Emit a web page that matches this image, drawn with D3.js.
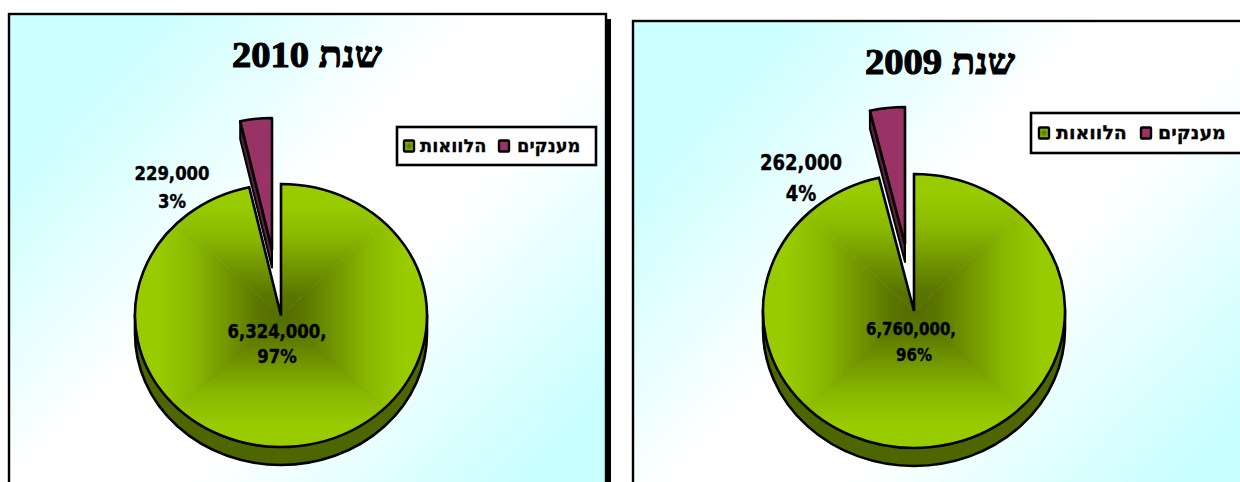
<!DOCTYPE html>
<html><head><meta charset="utf-8">
<script src="https://cdn.jsdelivr.net/npm/d3@7"></script>
<style>html,body{margin:0;padding:0;background:#fff;overflow:hidden}svg{display:block}</style>
</head><body><svg id="c" width="1240" height="482"></svg>
<script>
const categories = ["הלוואות", "מענקים"];
const years = ["2010", "2009"];
const values2010 = [6324000, 229000];
const values2009 = [6760000, 262000];
const percents2010 = ["97%", "3%"];
const percents2009 = ["96%", "4%"];
const titlePrefix = "שנת";
const colors = ["#99cc00", "#993366"];

const layouts = [
 {values:values2010, pct:percents2010, year:years[0], id:"a",
  box:[9,14,597,480], shadow:true, cx:281, cy:315.5, rx:146, ry:131.5, depth:18, off:[-9,-66],
  title:[307,67], big:{x1:277,y1:338,x2:277,y2:363,f:16.5}, small:{x:172,y1:180,y2:208,f:16.5},
  legend:{x:397,y:127,w:199,h:38,sw:[404,499],tx:[420,517],f:17.8}},
 {values:values2009, pct:percents2009, year:years[1], id:"b",
  box:[633,21,620,480], shadow:false, cx:914, cy:311, rx:151, ry:137, depth:18, off:[-9,-67],
  title:[940,74], big:{x1:911,y1:335,x2:914,y2:361,f:15}, small:{x:801,y1:170,y2:201,f:18},
  legend:{x:1031,y:113,w:214,h:40,sw:[1039,1141],tx:[1056,1158],f:19}}
];
const svg = d3.select("#c");
const defs = svg.append("defs");
const sans = "'DejaVu Sans',sans-serif";

function bold(sel, size, family, sw){ return sel.attr("font-family",family).attr("font-size",size).attr("font-weight","bold").attr("fill","#000").attr("stroke","#000").attr("stroke-width",sw).attr("text-anchor","middle"); }

layouts.forEach(L=>{
  const [bx,by,bw,bh]=L.box;
  const bg=defs.append("linearGradient").attr("id","bg"+L.id).attr("gradientUnits","userSpaceOnUse")
    .attr("x1",bx+60).attr("y1",by).attr("x2",bx+bw-40).attr("y2",by+bh);
  [[0,"#ccffff"],[.1,"#ccffff"],[.42,"#ffffff"],[.6,"#ffffff"],[.95,"#c8ffff"],[1,"#c8ffff"]].forEach(s=>bg.append("stop").attr("offset",s[0]).attr("stop-color",s[1]));
  if(L.shadow) svg.append("rect").attr("x",bx+bw-2).attr("y",by+5).attr("width",7).attr("height",bh).attr("fill","#000");
  svg.append("rect").attr("x",bx).attr("y",by).attr("width",bw).attr("height",bh)
    .attr("fill",`url(#bg${L.id})`).attr("stroke","#000").attr("stroke-width",2.4);

  // title
  const tt=svg.append("text").attr("transform",`translate(${L.title[0]},${L.title[1]}) scale(1.07,1)`)
    .attr("direction","rtl").attr("unicode-bidi","embed");
  bold(tt,36,"'Liberation Serif',serif",1.1).text(`${titlePrefix} ${L.year}`);

  // pie
  const pie=d3.pie().sort(null).startAngle(0).endAngle(2*Math.PI)(L.values);
  const sy=L.ry/L.rx;
  const arc=d3.arc().innerRadius(0).outerRadius(L.rx);
  const g=svg.append("g").attr("transform",`translate(${L.cx},${L.cy})`);

  // side wall
  g.append("path").attr("d",`M${-L.rx},0V${L.depth}A${L.rx},${L.ry} 0 0 0 ${L.rx},${L.depth}V0Z`)
    .attr("fill","#4d6600").attr("stroke","#000").attr("stroke-width",2.6);

  // top face, rectangular path gradient built from four triangles clipped to the slice
  const clip=defs.append("clipPath").attr("id","clip"+L.id);
  clip.append("path").attr("d",arc(pie[0])).attr("transform",`scale(1,${sy})`);
  const stops=[[0,"#526d00"],[.15,"#5a7600"],[.6,"#8ab800"],[.85,"#99cc00"],[1,"#99cc00"]];
  const dirs=[[1,0],[-1,0],[0,1],[0,-1]];
  const face=g.append("g").attr("clip-path",`url(#clip${L.id})`);
  dirs.forEach((d,i)=>{
    const gr=defs.append("linearGradient").attr("id",`q${L.id}${i}`).attr("gradientUnits","userSpaceOnUse")
      .attr("x1",0).attr("y1",0).attr("x2",d[0]*L.rx).attr("y2",d[1]*L.ry);
    stops.forEach(s=>gr.append("stop").attr("offset",s[0]).attr("stop-color",s[1]));
    const a=d[0]?[d[0]*L.rx,-L.ry,d[0]*L.rx,L.ry]:[-L.rx,d[1]*L.ry,L.rx,d[1]*L.ry];
    face.append("path").attr("d",`M0,0L${a[0]},${a[1]}L${a[2]},${a[3]}Z`).attr("fill",`url(#q${L.id}${i})`)
      .attr("stroke",`url(#q${L.id}${i})`).attr("stroke-width",.6);
  });
  g.append("path").attr("d",arc(pie[0])).attr("transform",`scale(1,${sy})`)
    .attr("fill","none").attr("stroke","#000").attr("stroke-width",2.6).attr("vector-effect","non-scaling-stroke").attr("stroke-linejoin","miter");

  // exploded slice
  const s=g.append("g").attr("transform",`translate(${L.off[0]},${L.off[1]})`);
  const a0=pie[1].startAngle, lx=L.rx*Math.sin(a0), ly=-L.ry*Math.cos(a0);
  s.append("path").attr("d",`M${lx},${ly}V${ly+L.depth}L0,${L.depth}V0Z`)
    .attr("fill","#5c1f3d").attr("stroke","#000").attr("stroke-width",2).attr("stroke-linejoin","round");
  s.append("path").attr("d",arc(pie[1])).attr("transform",`scale(1,${sy})`)
    .attr("fill",colors[1]).attr("stroke","#000").attr("stroke-width",2.6).attr("vector-effect","non-scaling-stroke").attr("stroke-linejoin","round");

  // data labels
  const fmt=d3.format(",");
  const lab=(x,y,f,txt)=>bold(svg.append("text").attr("transform",`translate(${x},${y}) scale(1,1.15)`),f,sans,0.35).text(txt);
  lab(L.big.x1,L.big.y1,L.big.f,fmt(L.values[0])+",");
  lab(L.big.x2,L.big.y2,L.big.f,L.pct[0]);
  lab(L.small.x,L.small.y1,L.small.f,fmt(L.values[1]));
  lab(L.small.x,L.small.y2,L.small.f,L.pct[1]);

  // legend
  const lg=L.legend;
  svg.append("rect").attr("x",lg.x).attr("y",lg.y).attr("width",lg.w).attr("height",lg.h).attr("fill","#fff").attr("stroke","#000").attr("stroke-width",2.6);
  const my=lg.y+lg.h/2;
  const sw=defs.append("radialGradient").attr("id","sw"+L.id);
  [[0,"#4d6600"],[1,"#99cc00"]].forEach(x=>sw.append("stop").attr("offset",x[0]).attr("stop-color",x[1]));
  [`url(#sw${L.id})`,colors[1]].forEach((f,i)=>{
    svg.append("rect").attr("x",lg.sw[i]).attr("y",my-5.5).attr("width",10).attr("height",11).attr("fill",f).attr("stroke","#000").attr("stroke-width",2.4).attr("rx",1);
  });
  categories.forEach((c,i)=>{
    svg.append("text").attr("x",lg.tx[i]).attr("y",my+6).attr("direction","ltr").attr("unicode-bidi","bidi-override")
      .attr("font-family",sans).attr("font-size",lg.f).attr("font-weight","bold").attr("fill","#000")
      .attr("stroke","#000").attr("stroke-width",0.3)
      .text(Array.from(c).reverse().join(""));
  });
});
</script></body></html>
